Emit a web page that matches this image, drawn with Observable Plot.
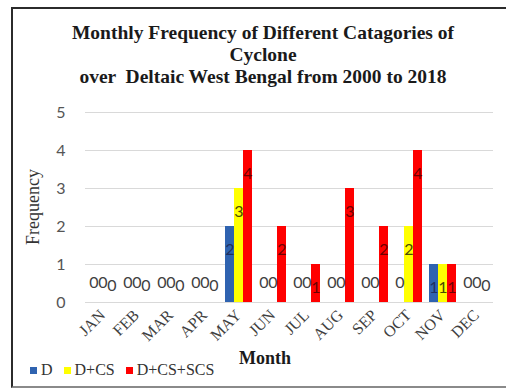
<!DOCTYPE html>
<html>
<head>
<meta charset="utf-8">
<script src="https://cdn.jsdelivr.net/npm/d3@7"></script>
<script src="https://cdn.jsdelivr.net/npm/@observablehq/plot@0.6"></script>
<style>
  html, body { margin: 0; padding: 0; background: #fff; }
  #wrap { position: relative; width: 506px; height: 388px; overflow: hidden; background: #fff; }
  #frame { position: absolute; left: 11px; top: 7px; width: 540px; height: 377px;
           border-left: 2px solid #2b2b2b; border-top: 2px solid #2b2b2b; border-bottom: 2px solid #8a8a8a;
           z-index: 5; pointer-events: none; }
  #title { position: absolute; left: 0; top: 22px; width: 526px; text-align: center;
           font: bold 19.5px "Liberation Serif", "Times New Roman", serif; line-height: 22px; color: #1a1a1a; white-space: pre; }
  #chart { position: absolute; left: 0; top: 95px; }
  #ytitle { position: absolute; left: 33px; top: 207px; transform: translate(-50%, -50%) rotate(-90deg);
            font: 18px "Liberation Serif", serif; color: #333; white-space: nowrap; }
  #xtitle { position: absolute; left: 265px; top: 358px; transform: translate(-50%, -50%);
            font: bold 18px "Liberation Serif", serif; color: #1a1a1a; white-space: nowrap; }
  #legend { position: absolute; left: 30px; top: 361px; display: flex; align-items: center;
            font: 16px "Liberation Serif", serif; color: #333; white-space: nowrap; }
  #legend .item { display: flex; align-items: center; margin-right: 11px; }
  #legend .sw { width: 7px; height: 7px; margin-right: 4px; }
</style>
</head>
<body>
<div id="wrap">
  <div id="title"></div>
  <div id="chart"></div>
  <div id="ytitle"></div>
  <div id="xtitle"></div>
  <div id="legend"></div>
  <div id="frame"></div>
</div>
<script>
const titleLines = ["Monthly Frequency of Different Catagories of", "Cyclone", "over  Deltaic West Bengal from 2000 to 2018"];
const yTitle = "Frequency";
const xTitle = "Month";
const months = ["JAN", "FEB", "MAR", "APR", "MAY", "JUN", "JUL", "AUG", "SEP", "OCT", "NOV", "DEC"];
const series = ["D", "D+CS", "D+CS+SCS"];
const dValues = [0, 0, 0, 0, 2, 0, 0, 0, 0, 0, 1, 0];
const dcsValues = [0, 0, 0, 0, 3, 0, 0, 0, 0, 2, 1, 0];
const dcsscsValues = [0, 0, 0, 0, 4, 2, 1, 3, 2, 4, 1, 0];
const yTicks = [0, 1, 2, 3, 4, 5];
const barColors = ["#2f63b0", "#ffff00", "#ff0000"];
const labelColors = ["#1f3060", "#4a4a00", "#6e0000"];

const seriesValues = [dValues, dcsValues, dcsscsValues];
const rows = months.flatMap((m, i) => seriesValues.map((vals, j) => ({month: m, series: series[j], value: vals[i], j})));

document.getElementById("title").textContent = titleLines.join("\n");
document.getElementById("ytitle").textContent = yTitle;
document.getElementById("xtitle").textContent = xTitle;

const legend = document.getElementById("legend");
series.forEach((s, j) => {
  const item = document.createElement("div");
  item.className = "item";
  const sw = document.createElement("div");
  sw.className = "sw";
  sw.style.background = barColors[j];
  const t = document.createElement("span");
  t.textContent = s;
  item.appendChild(sw); item.appendChild(t);
  legend.appendChild(item);
});

const labelFont = {fontSize: 16, fontFamily: "Lato, 'Open Sans', sans-serif"};
const chart = Plot.plot({
  width: 506,
  height: 260,
  marginTop: 17,
  marginBottom: 53,
  marginLeft: 83,
  marginRight: 11,
  style: {background: "transparent", overflow: "visible"},
  fx: {domain: months, padding: 0},
  x: {domain: series, paddingInner: 0, paddingOuter: 0.36, axis: null},
  y: {domain: [0, 5]},
  color: {domain: series, range: barColors},
  marks: [
    Plot.gridY(yTicks, {stroke: "#d9d9d9", strokeOpacity: 1}),
    Plot.axisY(yTicks, {tickSize: 0, tickPadding: 20, fontSize: 16, fontFamily: "Lato, 'Open Sans', sans-serif", fill: "#555", label: null}),
    Plot.axisFx({anchor: "bottom", tickRotate: -45, tickSize: 0, tickPadding: 10, fontSize: 16, fontFamily: "'Liberation Serif', serif", fill: "#404040", label: null}),
    Plot.barY(rows, {fx: "month", x: "series", y: "value", fill: "series"}),
    Plot.text(rows.filter(d => d.value > 0), {fx: "month", x: "series", y: "value", text: "value", dy: 23, fill: d => labelColors[d.j], ...labelFont}),
    Plot.text(rows.filter(d => d.value === 0 && d.j < 2), {fx: "month", x: "series", y: "value", text: "value", dy: -20, fill: "#404040", ...labelFont}),
    Plot.text(rows.filter(d => d.value === 0 && d.j === 2), {fx: "month", x: "series", y: "value", text: "value", dy: -17, fill: "#404040", ...labelFont})
  ]
});
document.getElementById("chart").appendChild(chart);
</script>
</body>
</html>
